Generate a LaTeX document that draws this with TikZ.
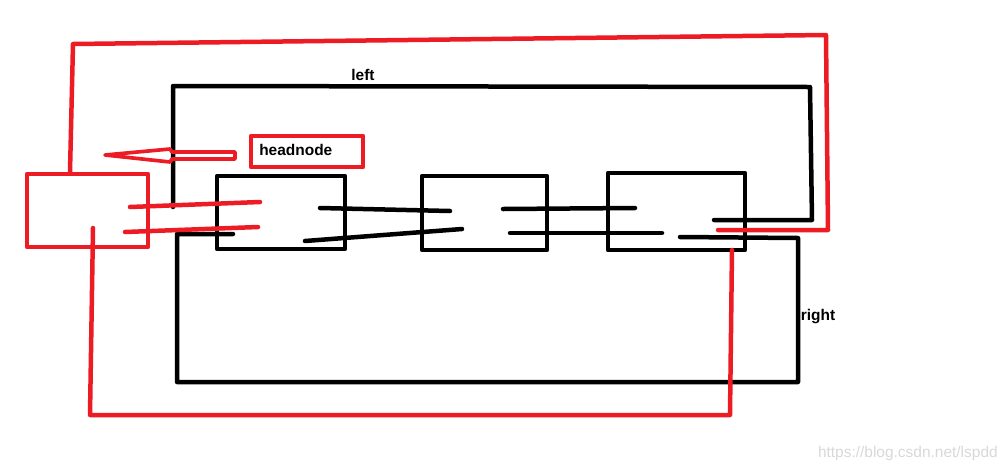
\documentclass[tikz,border=0pt]{standalone}
\usepackage{fontspec}
\setmainfont{Liberation Sans}
\usetikzlibrary{calc}
\definecolor{cRojo}{HTML}{ED1C24}
\definecolor{cNegro}{HTML}{000000}
\definecolor{cMarca}{HTML}{D8D8D8}

\begin{document}
\begin{tikzpicture}[
    x=0.025cm, y=-0.025cm, font=\bfseries\fontsize{11}{13}\selectfont,
    lnN/.style={draw=cNegro, line width=3.2pt, line cap=round, line join=round},
    lnR/.style={draw=cRojo, line width=3.2pt, line cap=round, line join=round},
    nodo/.style={lnN, rectangle, inner sep=0pt},
    cab/.style={lnR, rectangle, inner sep=0pt},
    tag/.style={font=\bfseries\fontsize{11}{13}\selectfont, inner sep=0pt},
]

\def\u{0.025cm}   % un pixel de la referencia

\useasboundingbox (0,0) rectangle (1008,469);

% ===================== Nodos de la lista =====================
\node[nodo, minimum width=128*\u, minimum height=73*\u] (n1) at (281,212.5) {};
\node[nodo, minimum width=125*\u, minimum height=74*\u] (n2) at (484.5,213) {};
\node[nodo, minimum width=137*\u, minimum height=77*\u] (n3) at (676.5,211.5) {};

% ===================== Nodo cabecera =====================
\node[cab, minimum width=121*\u, minimum height=73*\u] (hd) at (87.5,210.5) {};
\node[cab, minimum width=112*\u, minimum height=31*\u] (hl) at (307,151.5) {};
\node[tag, anchor=west] (hlt) at (259,150) {headnode};

% ===================== Marco left =====================
\draw[lnN] (173,207) -- (173,86) -- (810,87) -- (812,220) -- (714,220);
\node[tag] (lft) at (363,75) {left};

% ===================== Marco right =====================
\draw[lnN] (233,234) -- (177,234) -- (177,382) -- (798,382) -- (798,238) -- (680,237);
\node[tag] (rgt) at (818,317) {right};

% ===================== Punteros entre nodos =====================
\draw[lnN] (320,208) -- (450,211);
\draw[lnN] (305,241) -- (462,229);
\draw[lnN] (503,209) -- (635,208);
\draw[lnN] (510,233) -- (662,233);

% ===================== Lazos rojos de la cabecera =====================
\draw[lnR] (70,172) -- (73,44) -- (826,35) -- (828,230) -- (718,230);
\draw[lnR] (93,228) -- (90,415) -- (730,415) -- (732,250);
\draw[lnR] (130,207) -- (260,202);
\draw[lnR] (125,232) -- (258,227);

% Flecha que apunta a la cabecera.
\draw[lnR, line width=2.6pt] (105,155) -- (170,149) -- (172,152) -- (235,152)
      -- (235,159) -- (172,159) -- (170,162) -- cycle;

% ===================== Marca de agua =====================
\node[font=\fontsize{11}{13}\selectfont, text=cMarca, anchor=east, inner sep=0pt]
      (wm) at (998,453) {https://blog.csdn.net/lspdd};

\end{tikzpicture}
\end{document}
